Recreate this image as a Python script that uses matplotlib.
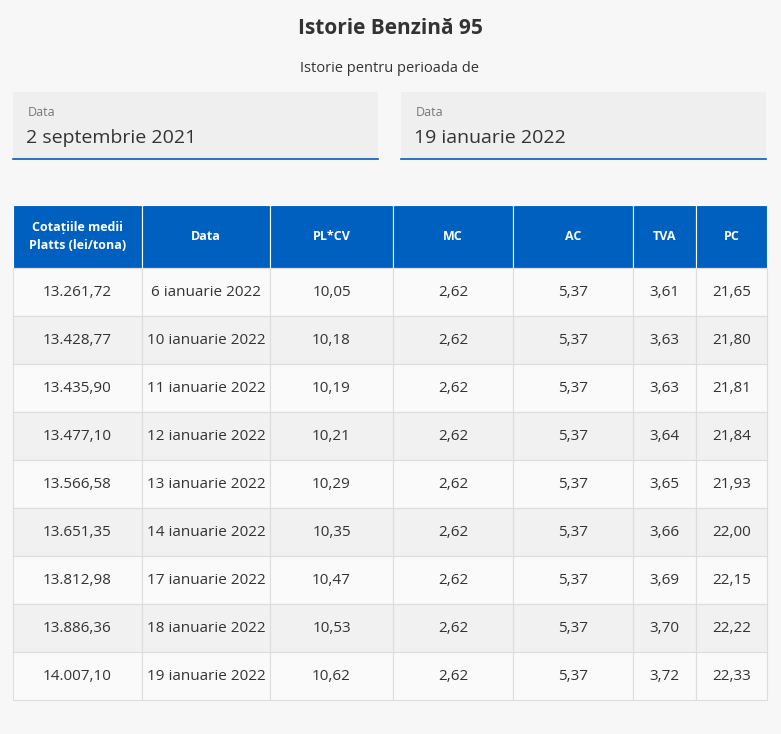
import matplotlib.pyplot as plt
from matplotlib.patches import Rectangle

plt.rcParams['font.family'] = ['Open Sans', 'DejaVu Sans']

title = 'Istorie Benzină 95'
subtitle = 'Istorie pentru perioada de'
date_from = '2 septembrie 2021'
date_to = '19 ianuarie 2022'

headers = ['Cotațiile medii\nPlatts (lei/tona)', 'Data', 'PL*CV', 'MC', 'AC', 'TVA', 'PC']
platts = [13261.72, 13428.77, 13435.90, 13477.10, 13566.58, 13651.35, 13812.98, 13886.36, 14007.10]
dates = ['6 ianuarie 2022', '10 ianuarie 2022', '11 ianuarie 2022', '12 ianuarie 2022',
         '13 ianuarie 2022', '14 ianuarie 2022', '17 ianuarie 2022', '18 ianuarie 2022',
         '19 ianuarie 2022']
plcv = [10.05, 10.18, 10.19, 10.21, 10.29, 10.35, 10.47, 10.53, 10.62]
mc = [2.62] * 9
ac = [5.37] * 9
tva = [3.61, 3.63, 3.63, 3.64, 3.65, 3.66, 3.69, 3.70, 3.72]
pc = [21.65, 21.80, 21.81, 21.84, 21.93, 22.00, 22.15, 22.22, 22.33]


def ro(v):
    s = f'{v:,.2f}'
    return s.replace(',', ' ').replace('.', ',').replace(' ', '.')


fig = plt.figure(figsize=(7.81, 7.34), dpi=100)
fig.patch.set_facecolor('#f7f7f7')
ax = fig.add_axes([0, 0, 1, 1])
ax.set_xlim(0, 781)
ax.set_ylim(734, 0)
ax.axis('off')

ax.text(390, 29, title, ha='center', va='center', fontsize=15, fontweight='bold', color='#333333')
ax.text(390, 68, subtitle, ha='center', va='center', fontsize=10.5, color='#333333')

# date boxes
for x0, x1, val in [(13, 378, date_from), (401, 766, date_to)]:
    ax.add_patch(Rectangle((x0, 92), x1 - x0, 67, facecolor='#efefef', edgecolor='none'))
    ax.plot([x0, x1], [159, 159], color='#0a5cb8', lw=1.2)
    ax.text(x0 + 15, 113, 'Data', fontsize=9, color='#777777', va='center')
    ax.text(x0 + 13, 138, val, fontsize=14, color='#333333', va='center')

cols = [13, 142, 270, 393, 513, 633, 696, 767]
head_top, head_bot, row_h = 205, 268, 48

for i, h in enumerate(headers):
    ax.add_patch(Rectangle((cols[i], head_top), cols[i + 1] - cols[i], head_bot - head_top,
                           facecolor='#0060c0', edgecolor='#ffffff', lw=0.8))
    ax.text((cols[i] + cols[i + 1]) / 2, (head_top + head_bot) / 2, h, ha='center', va='center',
            fontsize=9, fontweight='bold', color='white', linespacing=1.5)

rows = list(zip([ro(v) for v in platts], dates, [ro(v) for v in plcv], [ro(v) for v in mc],
                [ro(v) for v in ac], [ro(v) for v in tva], [ro(v) for v in pc]))
for r, row in enumerate(rows):
    y0 = head_bot + r * row_h
    bg = '#fafafa' if r % 2 == 0 else '#f1f1f1'
    for i, cell in enumerate(row):
        ax.add_patch(Rectangle((cols[i], y0), cols[i + 1] - cols[i], row_h,
                               facecolor=bg, edgecolor='#dddddd', lw=0.8))
        ax.text((cols[i] + cols[i + 1]) / 2, y0 + row_h / 2, cell, ha='center', va='center',
                fontsize=11, color='#333333')

fig.savefig('out.png', dpi=100, facecolor=fig.get_facecolor())
